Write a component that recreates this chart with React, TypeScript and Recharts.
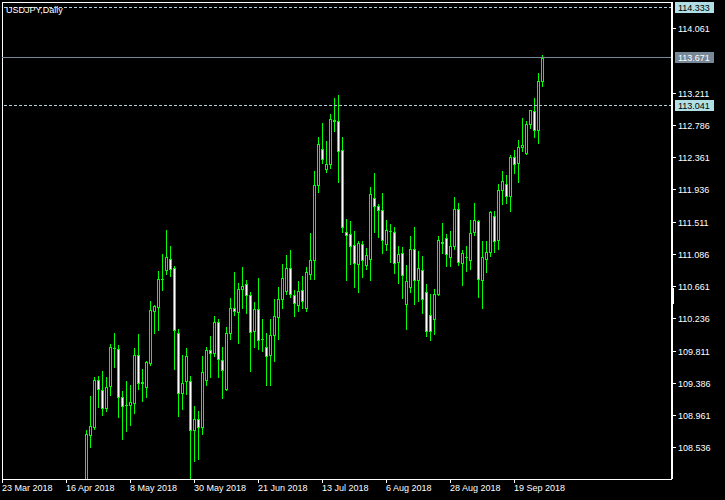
import { ComposedChart, Bar, XAxis, YAxis, ReferenceLine, ReferenceArea } from 'recharts';

const symbolTitle = 'USDJPY,Daily';

// bar index of the first candle that shows above the bottom edge
const firstBar = 21;

const opens = [
  107.700, 108.700, 108.806, 109.422, 109.290, 109.048, 109.343, 109.844, 109.835, 109.193,
  109.096, 109.088, 109.122, 109.748, 109.395, 109.325, 109.642, 110.336, 110.389, 110.758,
  110.873, 111.014, 110.895, 110.046, 109.246, 109.405, 109.405, 108.762, 108.903, 108.798,
  109.418, 109.814, 109.774, 110.183, 109.682, 109.299, 110.038, 110.368, 110.315, 110.618,
  110.684, 110.539, 110.064, 110.354, 109.966, 109.853, 109.748, 110.011, 110.249, 110.486,
  110.592, 110.895, 110.547, 110.407, 110.605, 110.375, 110.816, 111.009, 111.990, 112.465,
  112.201, 112.267, 112.852, 112.835, 112.452, 111.370, 111.348, 111.199, 110.956, 111.216,
  110.935, 111.022, 111.823, 111.717, 111.661, 111.212, 111.391, 111.370, 110.985, 111.093,
  110.420, 110.645, 111.146, 110.737, 110.869, 110.579, 110.275, 110.223, 110.552, 111.238,
  111.299, 111.040, 111.185, 111.682, 110.961, 111.048, 111.001, 111.370, 111.515, 110.737,
  111.022, 111.106, 111.589, 111.265, 111.924, 112.011, 111.845, 112.360, 112.281, 112.492,
  112.413, 112.795, 112.967, 112.724, 113.362,
];

const highs = [
  108.762, 109.211, 109.465, 109.474, 109.544, 109.457, 109.897, 110.046, 109.887, 109.281,
  109.412, 109.360, 109.844, 110.029, 109.563, 109.676, 110.464, 110.407, 110.860, 111.084,
  111.401, 111.190, 110.926, 110.091, 109.755, 109.844, 109.474, 109.079, 109.017, 109.738,
  109.857, 110.002, 110.266, 110.222, 109.857, 110.117, 110.500, 110.846, 110.697, 110.909,
  110.737, 110.579, 110.447, 110.767, 110.222, 110.038, 110.222, 110.486, 110.645, 110.952,
  111.071, 111.137, 110.605, 110.728, 110.794, 110.912, 111.361, 112.179, 112.628, 112.812,
  112.575, 112.931, 113.142, 113.182, 112.628, 111.542, 111.519, 111.387, 111.252, 111.252,
  111.163, 111.968, 112.153, 111.744, 111.889, 111.533, 111.480, 111.440, 111.190, 111.172,
  110.939, 111.321, 111.440, 111.124, 111.058, 110.688, 110.556, 110.622, 111.321, 111.493,
  111.344, 111.387, 111.832, 111.757, 111.137, 111.190, 111.529, 111.757, 111.529, 111.256,
  111.256, 111.647, 111.647, 112.004, 112.179, 112.126, 112.386, 112.452, 112.588, 112.874,
  112.839, 112.980, 113.138, 113.472, 113.709,
];

const lows = [
  107.620, 108.542, 108.779, 109.062, 108.964, 109.017, 109.228, 109.597, 108.930, 108.647,
  108.753, 108.824, 108.990, 109.307, 109.149, 109.201, 109.620, 110.038, 110.081, 110.609,
  110.820, 110.794, 109.563, 108.947, 109.043, 109.237, 108.100, 108.349, 108.383, 108.709,
  109.360, 109.465, 109.742, 109.465, 109.188, 109.290, 109.959, 110.275, 109.914, 110.368,
  110.302, 109.544, 109.853, 109.835, 109.800, 109.360, 109.360, 109.676, 109.966, 110.375,
  110.552, 110.513, 110.270, 110.336, 110.375, 110.332, 110.754, 110.754, 111.906, 112.281,
  112.162, 112.223, 112.711, 112.038, 111.378, 110.741, 110.956, 110.653, 110.587, 110.785,
  110.890, 110.741, 111.378, 111.312, 111.101, 111.137, 110.978, 110.837, 110.708, 110.507,
  110.098, 110.583, 110.428, 110.464, 110.310, 110.006, 109.949, 110.025, 110.545, 111.101,
  110.930, 110.930, 111.154, 110.939, 110.679, 110.856, 110.890, 111.331, 110.521, 110.375,
  110.850, 111.062, 111.114, 111.154, 111.748, 111.761, 111.655, 112.157, 112.038, 112.439,
  112.405, 112.742, 112.632, 112.552, 113.304,
];

const closes = [
  108.709, 108.815, 109.422, 109.299, 109.048, 109.325, 109.853, 109.850, 109.193, 109.079,
  109.088, 109.131, 109.748, 109.386, 109.386, 109.659, 110.345, 110.398, 110.750, 110.754,
  111.040, 110.890, 110.081, 109.246, 109.386, 109.738, 108.762, 108.903, 108.798, 109.531,
  109.814, 109.774, 110.183, 109.695, 109.550, 110.038, 110.368, 110.328, 110.618, 110.658,
  110.539, 110.051, 110.354, 109.945, 109.960, 109.734, 110.011, 110.262, 110.486, 110.763,
  110.895, 110.552, 110.434, 110.592, 110.460, 110.843, 111.001, 111.990, 112.531, 112.341,
  112.267, 112.861, 112.845, 112.439, 111.444, 111.339, 111.193, 110.969, 111.225, 111.009,
  111.067, 111.872, 111.721, 111.661, 111.265, 111.397, 111.387, 110.969, 111.081, 110.803,
  110.728, 111.150, 110.737, 110.895, 110.486, 110.064, 110.064, 110.552, 111.269, 111.236,
  111.084, 111.185, 111.674, 110.975, 111.093, 111.044, 111.357, 111.529, 110.750, 111.040,
  111.106, 111.634, 111.252, 111.924, 112.051, 111.845, 112.360, 112.267, 112.492, 112.518,
  112.795, 112.980, 112.716, 113.362, 113.671,
];

const dateTicks = [0, 16, 32, 48, 64, 80, 96, 112, 128];
const dateLabels = ['23 Mar 2018', '16 Apr 2018', '8 May 2018', '30 May 2018', '21 Jun 2018', '13 Jul 2018', '6 Aug 2018', '28 Aug 2018', '19 Sep 2018'];

const priceTicks = [108.536, 108.961, 109.386, 109.811, 110.236, 110.661, 111.086, 111.511, 111.936, 112.361, 112.786, 113.211, 114.061];

const highLevel = 114.333;
const bidLevel = 113.671;
const lowLevel = 113.041;

const data = opens.map((open, k) => ({
  bar: firstBar + k,
  open,
  high: highs[k],
  low: lows[k],
  close: closes[k],
  range: [lows[k], highs[k]],
}));

const FONT = '"Liberation Sans", Arial, sans-serif';
const GREEN = '#00ff00';

// candles drawn from filled pixel rects so they stay crisp
function Candle(props: any) {
  const { x, y, width, height, payload } = props;
  if (height == null || !payload) return null;
  const { open, close, high, low } = payload;
  const perUnit = height / (high - low);
  const toY = (p: number) => y + (high - p) * perUnit;
  const px = Math.round(x + width / 2);
  const wickTop = Math.round(Math.min(y, y + height));
  const wickBottom = Math.round(Math.max(y, y + height));
  const top = Math.round(Math.min(toY(open), toY(close)));
  const bottom = Math.round(Math.max(toY(open), toY(close)));
  const bear = close < open;
  return (
    <g shapeRendering="crispEdges">
      <rect x={px} y={wickTop} width={1} height={wickBottom - wickTop + 1} fill={GREEN} />
      <rect x={px - 1} y={top} width={3} height={bottom - top + 1} fill={GREEN} />
      {bottom - top >= 2 && (
        <rect x={px} y={top + 1} width={1} height={bottom - top - 1} fill={bear ? '#ffffff' : '#000000'} />
      )}
    </g>
  );
}

function DateTick(props: any) {
  const { x, y, payload } = props;
  const label = dateLabels[dateTicks.indexOf(payload.value)];
  const px = Math.round(x - 0.5);
  return (
    <g>
      <rect x={px} y={y} width={1} height={4} fill="#fff" shapeRendering="crispEdges" />
      <text x={px} y={y + 12} fill="#fff" fontSize={9} fontFamily={FONT}>{label}</text>
    </g>
  );
}

function PriceTick(props: any) {
  const { x, y, payload } = props;
  const py = Math.round(y);
  return (
    <g>
      <rect x={Math.round(x)} y={py} width={4} height={1} fill="#fff" shapeRendering="crispEdges" />
      <text x={x + 6} y={py + 3.5} fill="#fff" fontSize={9} fontFamily={FONT}>{payload.value.toFixed(3)}</text>
    </g>
  );
}

function PriceTag({ viewBox, price, bg, color }: any) {
  if (!viewBox) return null;
  const right = viewBox.x + viewBox.width;
  const py = Math.round(viewBox.y);
  return (
    <g>
      <rect x={right + 3} y={py - 6} width={39} height={11} fill={bg} shapeRendering="crispEdges" />
      <text x={right + 6} y={py + 3} fill={color} fontSize={9} fontFamily={FONT}>{price.toFixed(3)}</text>
    </g>
  );
}

function Frame(props: any) {
  const { x, y, width, height } = props;
  return (
    <g shapeRendering="crispEdges">
      <rect x={Math.round(x)} y={Math.round(y)} width={1} height={height} fill="#fff" />
      <rect x={Math.round(x)} y={Math.round(y)} width={width} height={1} fill="#fff" />
    </g>
  );
}

export default function App() {
  return (
    <div style={{ position: 'absolute', left: 0, top: 0, width: 725, height: 500, background: '#000' }}>
      <ComposedChart width={725} height={500} data={data} margin={{ top: 2, right: 0, bottom: 0, left: 2 }}>
        <XAxis
          dataKey="bar"
          type="number"
          domain={[-0.1, 167.4]}
          allowDataOverflow
          ticks={dateTicks}
          interval={0}
          height={21}
          axisLine={{ stroke: '#fff', shapeRendering: 'crispEdges' }}
          tickLine={false}
          tickSize={0}
          tickMargin={0}
          tick={<DateTick />}
        />
        <YAxis
          orientation="right"
          type="number"
          domain={[108.116, 114.409]}
          allowDataOverflow
          ticks={priceTicks}
          interval={0}
          width={53}
          axisLine={{ stroke: '#fff', strokeWidth: 2 }}
          tickLine={false}
          tickSize={0}
          tickMargin={0}
          tick={<PriceTick />}
        />
        <ReferenceArea shape={<Frame />} fill="none" />
        <Bar dataKey="range" barSize={3} shape={<Candle />} isAnimationActive={false} />
        <ReferenceLine
          y={highLevel}
          stroke="#b0d0dc"
          strokeDasharray="3 2"
          shapeRendering="crispEdges"
          label={(p: any) => <PriceTag viewBox={p.viewBox} price={highLevel} bg="#b0e0e6" color="#000" />}
        />
        <ReferenceLine
          y={bidLevel}
          stroke="#778899"
          shapeRendering="crispEdges"
          label={(p: any) => <PriceTag viewBox={p.viewBox} price={bidLevel} bg="#778899" color="#fff" />}
        />
        <ReferenceLine
          y={lowLevel}
          stroke="#b0d0dc"
          strokeDasharray="3 2"
          shapeRendering="crispEdges"
          label={(p: any) => <PriceTag viewBox={p.viewBox} price={lowLevel} bg="#b0e0e6" color="#000" />}
        />
      </ComposedChart>
      <div style={{ position: 'absolute', left: 6, top: 4, fontFamily: FONT, fontSize: 9, lineHeight: '12px', color: '#fff' }}>
        {symbolTitle}
      </div>
      <div style={{ position: 'absolute', left: 671, top: 288, width: 3, height: 16, background: '#fff' }} />
    </div>
  );
}
